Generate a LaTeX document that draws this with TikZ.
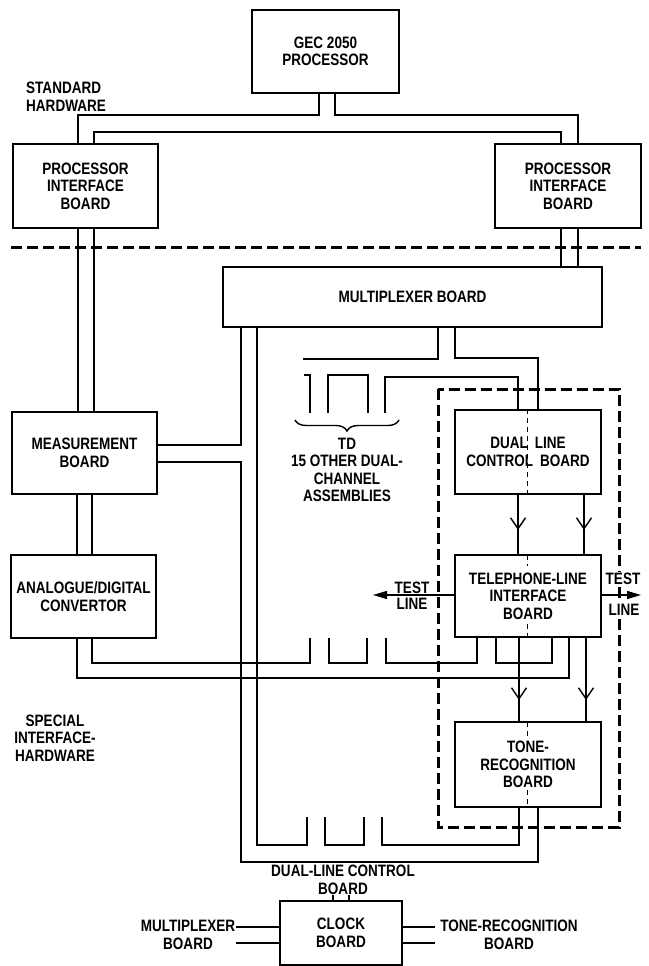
\documentclass[tikz,border=0pt]{standalone}
\usepackage{fontspec}
\setmainfont[FakeStretch=0.82]{Liberation Sans}
\usetikzlibrary{arrows.meta,decorations.pathreplacing}
\begin{document}
\begin{tikzpicture}[x=1pt,y=-1pt,
  every node/.style={font=\fontsize{16.5}{17.5}\selectfont\bfseries},
  box/.style={draw, line width=1.5pt, inner sep=0pt, align=center},
  wire/.style={line width=1.4pt},
  sepline/.style={line width=3pt, dash pattern=on 11pt off 5pt},
  centreline/.style={line width=0.9pt, dash pattern=on 5pt off 4pt},
  lbl/.style={align=center, inner sep=0pt},
  midarrow/.style={wire,-{Straight Barb[length=11pt,width=15pt]}},
  testarrow/.style={wire,-{Triangle[length=14pt,width=8pt]}}]

\useasboundingbox (0,0) rectangle (648,966);

% ---------------- boxes ----------------
\node[box, minimum width=147pt, minimum height=83pt] (gec) at (325.5,51.5) {GEC 2050\\PROCESSOR};
\node[box, minimum width=145pt, minimum height=84pt] (pibL) at (85.5,186) {PROCESSOR\\INTERFACE\\BOARD};
\node[box, minimum width=146pt, minimum height=84pt] (pibR) at (568,186) {PROCESSOR\\INTERFACE\\BOARD};
\node[box, minimum width=379pt, minimum height=60pt] (mux) at (412.5,297) {MULTIPLEXER BOARD};
\node[box, minimum width=145pt, minimum height=82pt] (meas) at (84.5,453) {MEASUREMENT\\BOARD};
\node[box, minimum width=145pt, minimum height=83pt] (adc) at (83.5,596.5) {ANALOGUE/DIGITAL\\CONVERTOR};
\node[box, minimum width=146pt, minimum height=84pt] (dlc) at (528,452) {DUAL\hspace{7pt}LINE\\CONTROL\hspace{7pt}BOARD};
\node[box, minimum width=146pt, minimum height=82pt] (tli) at (528,596) {TELEPHONE-LINE\\INTERFACE\\BOARD};
\node[box, minimum width=146pt, minimum height=85pt] (tone) at (528,764.5) {TONE-\\RECOGNITION\\BOARD};
\node[box, minimum width=122pt, minimum height=64pt] (clock) at (341,933) {CLOCK\\BOARD};

% ---------------- columns ----------------
\foreach \c in {77,78,92,94,241,257,319,335,333,349,438,455,477,496,518,519,538,552,561,569,578,584,586}
  \coordinate (x\c) at (\c,0);
\coordinate (y445) at (0,445);
\coordinate (y462) at (0,462);
\coordinate (y595) at (0,595);
\coordinate (y927) at (0,927);
\coordinate (y943) at (0,943);

% ---------------- separator and group box ----------------
\draw[sepline] (11,247) -- (641,247);
\draw[sepline] (438,389) rectangle (619,827);

% ---------------- standard hardware wiring ----------------
\draw[wire] (gec.south -| x319) |- (78,115) -- (pibL.north -| x78);
\draw[wire] (gec.south -| x335) |- (578,115) -- (pibR.north -| x578);
\draw[wire] (pibL.north -| x94) |- (561,132) -- (pibR.north -| x561);
\draw[wire] (pibL.south -| x78) -- (meas.north -| x78);
\draw[wire] (pibL.south -| x94) -- (meas.north -| x94);
\draw[wire] (pibR.south -| x561) -- (mux.north -| x561);
\draw[wire] (pibR.south -| x578) -- (mux.north -| x578);

% ---------------- measurement / converter ----------------
\draw[wire] (mux.south -| x241) |- (meas.east |- y445);
\draw[wire] (meas.east |- y462) -| (241,862) -| (tone.south -| x538);
\draw[wire] (meas.south -| x77) -- (adc.north -| x77);
\draw[wire] (meas.south -| x92) -- (adc.north -| x92);
\draw[wire] (adc.south -| x77) |- (569,678) -- (tli.south -| x569);
\coordinate (s1) at (310,638);
\draw[wire] (adc.south -| x92) |- (310,663) -- (s1);

% ---------------- comb below telephone-line board ----------------
\coordinate (s2) at (329,638);
\coordinate (s3) at (367,638);
\coordinate (s4) at (386,638);
\draw[wire] (s2) |- (367,663) -- (s3);
\draw[wire] (s4) |- (477,663) -- (tli.south -| x477);
\draw[wire] (tli.south -| x496) |- (552,663) -- (tli.south -| x552);

% ---------------- comb below multiplexer ----------------
\coordinate (t1) at (303,359);
\draw[wire] (mux.south -| x438) |- (t1);
\coordinate (t2) at (304,375);
\coordinate (t3) at (310,413);
\draw[wire] (t2) -| (t3);
\coordinate (t4) at (328,413);
\coordinate (t5) at (368,413);
\draw[wire] (t4) |- (368,375) -- (t5);
\coordinate (t6) at (385,413);
\draw[wire] (t6) |- (518,377) -- (dlc.north -| x518);
\draw[wire] (mux.south -| x455) |- (538,358) -- (dlc.north -| x538);

% ---------------- comb above clock board ----------------
\coordinate (b1) at (307,817);
\draw[wire] (mux.south -| x257) |- (307,845) -- (b1);
\coordinate (b2) at (325,817);
\coordinate (b3) at (364,817);
\draw[wire] (b2) |- (364,845) -- (b3);
\coordinate (b4) at (382,817);
\draw[wire] (b4) |- (519,845) -- (tone.south -| x519);

% ---------------- channel arrows ----------------
\draw[midarrow] (dlc.south -| x518) -- (518,530);
\draw[wire] (518,528) -- (tli.north -| x518);
\draw[midarrow] (dlc.south -| x584) -- (584,530);
\draw[wire] (584,528) -- (tli.north -| x584);
\draw[midarrow] (tli.south -| x519) -- (519,700);
\draw[wire] (519,698) -- (tone.north -| x519);
\draw[midarrow] (tli.south -| x586) -- (586,700);
\draw[wire] (586,698) -- (tone.north -| x586);

% channel split lines
\draw[centreline] (dlc.north -| 527,0) -- (dlc.south -| 527,0);
\draw[centreline] (527,555) -- (527,566);
\draw[centreline] (527,624) -- (527,637);
\draw[centreline] (527,722) -- (527,737);
\draw[centreline] (527,790) -- (527,807);

% ---------------- test lines ----------------
\coordinate (tlL) at (373,595);
\coordinate (tlR) at (641,595);
\draw[testarrow] (tli.west |- y595) -- (tlL);
\draw[testarrow] (tli.east |- y595) -- (tlR);
\node[lbl] (testL) at (412,596) {TEST\\[-1.5pt]LINE};
\node[lbl, fill=white, inner sep=1pt] (testR1) at (623,579) {TEST};
\node[lbl, fill=white, inner sep=1pt] (testR2) at (624,610) {LINE};

% ---------------- clock board connections ----------------
\coordinate (k1) at (333,895);
\coordinate (k2) at (349,895);
\draw[wire] (clock.north -| x333) -- (k1);
\draw[wire] (clock.north -| x349) -- (k2);
\coordinate (kl1) at (236,927);
\coordinate (kl2) at (236,943);
\coordinate (kr1) at (435,927);
\coordinate (kr2) at (435,943);
\draw[wire] (clock.west |- y927) -- (kl1);
\draw[wire] (clock.west |- y943) -- (kl2);
\draw[wire] (clock.east |- y927) -- (kr1);
\draw[wire] (clock.east |- y943) -- (kr2);

% ---------------- labels ----------------
\node[lbl, anchor=west, align=left] (std) at (26,96.5) {STANDARD\\HARDWARE};
\node[lbl] (spec) at (55,738) {SPECIAL\\INTERFACE-\\HARDWARE};
\draw[wire, decorate, decoration={brace, mirror, amplitude=11pt}] (295,420) -- (399,420);
\node[lbl] (td) at (347,470) {TD\\15 OTHER DUAL-\\CHANNEL\\ASSEMBLIES};
\node[lbl] (dlclbl) at (343,880) {DUAL-LINE CONTROL\\BOARD};
\node[lbl] (muxlbl) at (188,935) {MULTIPLEXER\\BOARD};
\node[lbl] (tonelbl) at (509,935) {TONE-RECOGNITION\\BOARD};
\end{tikzpicture}
\end{document}
